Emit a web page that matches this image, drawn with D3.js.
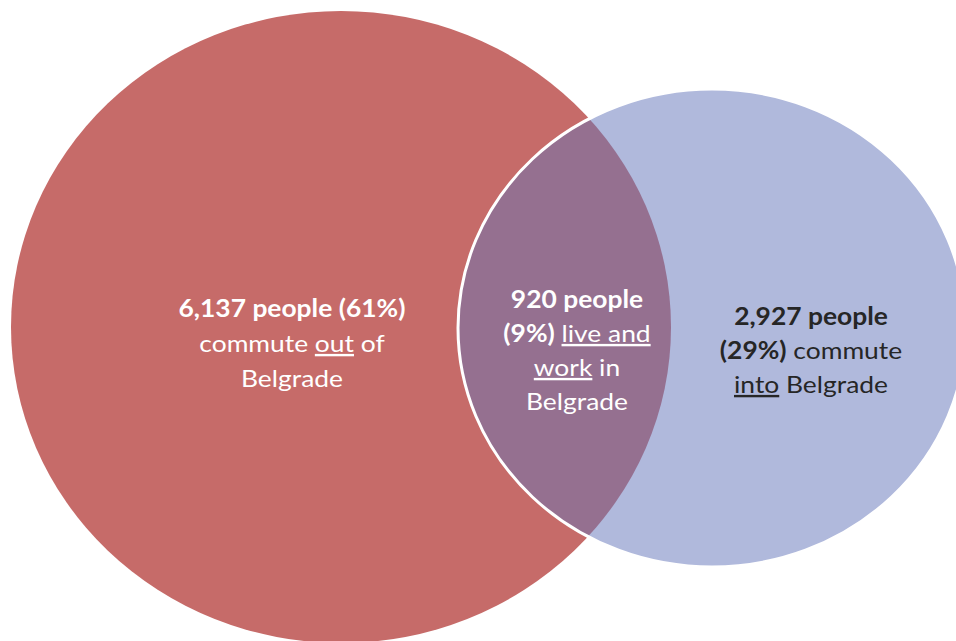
<!DOCTYPE html>
<html>
<head>
<meta charset="utf-8">
<script src="https://cdn.jsdelivr.net/npm/d3@7"></script>
<style>
  html, body { margin: 0; padding: 0; background: #fff; }
  svg { display: block; }
  text { font-family: Lato, "Open Sans", sans-serif; }
</style>
</head>
<body>
<svg id="chart" width="956" height="641"></svg>
<script>
// Commuting groups
const groups = ["out", "both", "into"];
const people = [6137, 920, 2927];
const shares = [61, 9, 29];
const fills = ["#C66B69", "#957090", "#B0B9DC"];
const textColors = ["#ffffff", "#ffffff", "#262626"];

// Label lines: each line is a list of [text, bold, underline] runs
const fmt = d3.format(",");
const labels = [
  [
    [[`${fmt(people[0])} people (${shares[0]}%)`, true, false]],
    [["commute ", false, false], ["out", false, true], [" of", false, false]],
    [["Belgrade", false, false]]
  ],
  [
    [[`${fmt(people[1])} people`, true, false]],
    [[`(${shares[1]}%)`, true, false], [" ", false, false], ["live and", false, true]],
    [["work", false, true], [" in", false, false]],
    [["Belgrade", false, false]]
  ],
  [
    [[`${fmt(people[2])} people`, true, false]],
    [[`(${shares[2]}%)`, true, false], [" commute", false, false]],
    [["into", false, true], [" Belgrade", false, false]]
  ]
];

const svg = d3.select("#chart");

// Ellipse layout for the two sets
const outSet = { cx: 341, cy: 327, rx: 330, ry: 316 };
const intoSet = { cx: 712, cy: 328, rx: 254, ry: 239 };

const defs = svg.append("defs");
defs.append("clipPath").attr("id", "clip-out")
  .append("ellipse")
  .attr("cx", outSet.cx).attr("cy", outSet.cy)
  .attr("rx", outSet.rx).attr("ry", outSet.ry);

svg.append("ellipse")
  .attr("cx", outSet.cx).attr("cy", outSet.cy)
  .attr("rx", outSet.rx).attr("ry", outSet.ry)
  .attr("fill", fills[0]);

svg.append("ellipse")
  .attr("cx", intoSet.cx).attr("cy", intoSet.cy)
  .attr("rx", intoSet.rx).attr("ry", intoSet.ry)
  .attr("fill", fills[2]);

// Overlap region
svg.append("ellipse")
  .attr("clip-path", "url(#clip-out)")
  .attr("cx", intoSet.cx).attr("cy", intoSet.cy)
  .attr("rx", intoSet.rx).attr("ry", intoSet.ry)
  .attr("fill", fills[1]);

// White outline of the commuting-in set
svg.append("ellipse")
  .attr("cx", intoSet.cx).attr("cy", intoSet.cy)
  .attr("rx", intoSet.rx).attr("ry", intoSet.ry)
  .attr("fill", "none")
  .attr("stroke", "#fff")
  .attr("stroke-width", 3);

// Label anchors (centre x, first baseline y)
const anchors = [
  { x: 292, y: 317 },
  { x: 577, y: 308 },
  { x: 811, y: 325 }
];
const lineGap = [35, 34, 34];
const fontSize = 24;
const widen = 1.1;

labels.forEach((lines, i) => {
  const ax = anchors[i].x;
  const t = svg.append("text")
    .attr("text-anchor", "middle")
    .attr("font-size", fontSize)
    .attr("fill", textColors[i])
    .attr("transform", `translate(${ax},0) scale(${widen},1) translate(${-ax},0)`);
  lines.forEach((runs, j) => {
    runs.forEach((r, k) => {
      const ts = t.append("tspan")
        .attr("font-weight", r[1] ? 700 : 400)
        .attr("text-decoration", r[2] ? "underline" : null)
        .style("white-space", "pre")
        .text(r[0]);
      if (k === 0) {
        ts.attr("x", ax).attr("y", anchors[i].y + j * lineGap[i]);
      }
    });
  });
});
</script>
</body>
</html>
